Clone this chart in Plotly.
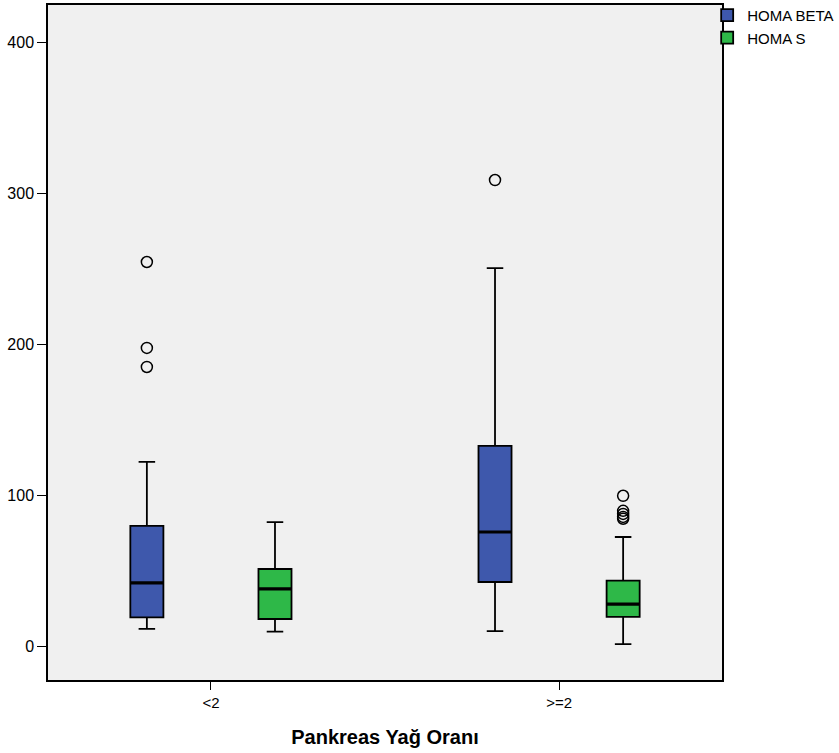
import plotly.graph_objects as go

categories = ["<2", ">=2"]

# HOMA BETA
beta_lower = [11.3, 9.9]
beta_q1 = [19.0, 42.4]
beta_median = [41.8, 75.5]
beta_q3 = [79.5, 132.5]
beta_upper = [121.9, 250.3]
beta_outliers = [[254.3, 197.4, 184.8], [308.6]]

# HOMA S
s_lower = [9.5, 1.2]
s_q1 = [17.9, 19.3]
s_median = [37.9, 27.8]
s_q3 = [51.0, 43.3]
s_upper = [82.0, 72.2]
s_outliers = [[None], [99.5, 89.5, 87.5, 85.5, 84.3]]

FONT = "Liberation Sans, Arial, sans-serif"

fig = go.Figure()

def add_box(name, color, lower, q1, med, q3, upper, outl):
    fig.add_trace(go.Box(
        name=name,
        offsetgroup=name,
        x=categories,
        q1=q1, median=med, q3=q3,
        lowerfence=lower, upperfence=upper,
        y=outl,
        boxpoints="outliers",
        jitter=0, pointpos=0,
        fillcolor=color,
        line=dict(color="black", width=1.8),
        whiskerwidth=0.5,
        marker=dict(symbol="circle-open", size=11, color="black",
                    line=dict(width=1.5, color="black"),
                    outliercolor="black"),
        hoverinfo="skip",
    ))
    # thick median line drawn as a degenerate box at the median value
    fig.add_trace(go.Box(
        name=name,
        offsetgroup=name,
        x=categories,
        q1=med, median=med, q3=med,
        lowerfence=med, upperfence=med,
        boxpoints=False,
        fillcolor="rgba(0,0,0,0)",
        line=dict(color="black", width=3.2),
        whiskerwidth=0,
        showlegend=False,
        hoverinfo="skip",
    ))

add_box("HOMA BETA", "#3E58AC", beta_lower, beta_q1, beta_median, beta_q3, beta_upper, beta_outliers)
add_box("HOMA S", "#2EB848", s_lower, s_q1, s_median, s_q3, s_upper, s_outliers)

fig.update_layout(
    width=839, height=753,
    margin=dict(l=48, r=117, t=5, b=73, autoexpand=False),
    paper_bgcolor="white",
    plot_bgcolor="#F0F0F0",
    boxmode="group",
    boxgap=0.264,
    boxgroupgap=0.742,
    font=dict(family=FONT, size=15, color="black"),
    showlegend=True,
    legend=dict(x=0.978, y=1.009, xanchor="left", yanchor="top",
                bgcolor="rgba(0,0,0,0)", font=dict(size=15, family=FONT),
                tracegroupgap=0, itemwidth=30),
    xaxis=dict(
        type="category",
        range=[-0.468, 1.468],
        showgrid=False, zeroline=False,
        showline=True, linecolor="black", linewidth=1.5, mirror=True,
        ticks="outside", ticklen=8, tickcolor="black",
        tickfont=dict(size=15),
        title=dict(text="<b>Pankreas Yağ Oranı</b>", font=dict(size=20, family=FONT), standoff=20),
    ),
    yaxis=dict(
        range=[-22.5, 424.5],
        tickvals=[0, 100, 200, 300, 400],
        showgrid=False, zeroline=False,
        showline=True, linecolor="black", linewidth=1.5, mirror=True,
        ticks="outside", ticklen=9, tickcolor="black",
        tickfont=dict(size=16),
    ),
)

fig.write_html("out.html",
               config={"displayModeBar": False},
               post_script="document.body.style.margin='0';document.body.style.overflow='hidden';")
